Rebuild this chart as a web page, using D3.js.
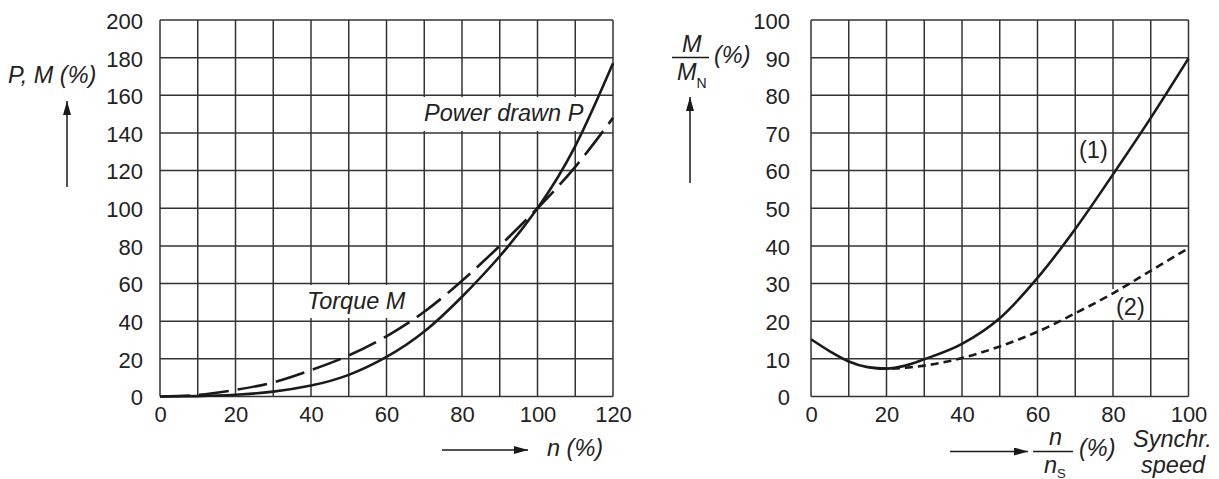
<!DOCTYPE html>
<html><head><meta charset="utf-8">
<script src="https://cdn.jsdelivr.net/npm/d3@7/dist/d3.min.js"></script>
<style>
html,body{margin:0;padding:0;background:#fff;}
svg{display:block;font-family:"Liberation Sans",Arial,sans-serif;}
</style></head>
<body><svg id="c" width="1219" height="479"></svg>
<script>
// ---- Left chart data ----
const leftN = [0,10,20,30,40,50,60,70,80,90,100,110,120];
const powerP = [0,0.2,0.9,2.6,5.8,11.5,21,34.5,53,74.5,100,133,177];
const torqueM = [0,0.8,3.5,7.5,14,21.8,32,45,61.5,80,100,122,148];
const leftXTicks = [0,20,40,60,80,100,120];
const leftYTicks = [0,20,40,60,80,100,120,140,160,180,200];

// ---- Right chart data ----
const rightN1 = [0,5,10,15,20,25,30,40,50,60,70,80,90,100];
const curve1 = [15.2,12,9.3,7.8,7.4,8.2,9.9,14,20.8,31.5,44.5,59,74,89.8];
const rightN2 = [18,20,30,40,50,60,70,80,90,100];
const curve2 = [7.4,7.4,8.2,10.2,13.3,17.2,22.1,27.4,33.4,39.4];
const rightXTicks = [0,20,40,60,80,100];
const rightYTicks = [0,10,20,30,40,50,60,70,80,90,100];

const svg = d3.select("#c");
const gridCol = "#333";
const inkCol = "#1a1a1a";
const txtCol = "#222";
const LFS = 23.5;

svg.append("defs").append("marker")
  .attr("id","ah").attr("viewBox","0 0 14 8").attr("refX",14).attr("refY",4)
  .attr("markerWidth",14).attr("markerHeight",8).attr("markerUnits","userSpaceOnUse")
  .attr("orient","auto")
  .append("path").attr("d","M0,0 L14,4 L0,8 Z").attr("fill",inkCol);

function drawPanel(x, y, xGrid, yGrid, xTicks, yTicks, yPad){
  const g = svg.append("g");
  const [x0,x1] = x.range(), [y0,y1] = y.range();
  g.selectAll(".vg").data(xGrid).enter().append("line")
    .attr("x1",d=>x(d)).attr("x2",d=>x(d)).attr("y1",y0).attr("y2",y1)
    .attr("stroke",gridCol).attr("stroke-width",1.5);
  g.selectAll(".hg").data(yGrid).enter().append("line")
    .attr("y1",d=>y(d)).attr("y2",d=>y(d)).attr("x1",x0).attr("x2",x1)
    .attr("stroke",gridCol).attr("stroke-width",1.5);
  const ax = g.append("g").attr("transform",`translate(0,${y0})`)
    .call(d3.axisBottom(x).tickValues(xTicks).tickSize(0).tickPadding(9.5).tickFormat(d3.format("d")));
  ax.select(".domain").remove();
  ax.selectAll("text").attr("font-size",22).attr("fill",txtCol).attr("font-family","Liberation Sans, Arial, sans-serif");
  const ay = g.append("g").attr("transform",`translate(${x0},0)`)
    .call(d3.axisLeft(y).tickValues(yTicks).tickSize(0).tickPadding(yPad).tickFormat(d3.format("d")));
  ay.select(".domain").remove();
  ay.selectAll("text").attr("font-size",22).attr("fill",txtCol).attr("dy","0.38em").attr("font-family","Liberation Sans, Arial, sans-serif");
  return g;
}

function label(txt, x, y, box, upright){
  if(box){
    svg.append("rect").attr("x",box[0]).attr("y",box[1]).attr("width",box[2]).attr("height",box[3]).attr("fill","#fff");
  }
  return svg.append("text").attr("x",x).attr("y",y).text(txt)
    .attr("font-size",LFS).attr("font-style",upright?"normal":"italic").attr("fill",txtCol);
}

// ---------- LEFT ----------
const xL = d3.scaleLinear().domain([0,120]).range([160,613]);
const yL = d3.scaleLinear().domain([0,200]).range([396.5,20]);
drawPanel(xL, yL, d3.range(0,121,10), d3.range(0,201,20), leftXTicks, leftYTicks, 17);

const smooth = d3.line().curve(d3.curveNatural);
const smoothM = d3.line().curve(d3.curveMonotoneX);
const ptsP = leftN.map((n,i)=>[xL(n), yL(powerP[i])]);
const ptsM = leftN.map((n,i)=>[xL(n), yL(torqueM[i])]);

label("Torque M", 307, 308.5, [304,285,106,33]);
label("Power drawn P", 424, 120.5, [420,97,170,34]);

svg.append("path").attr("d",smooth(ptsM)).attr("fill","none").attr("stroke",inkCol)
  .attr("stroke-width",2.6).attr("stroke-dasharray","30,9");
svg.append("path").attr("d",smooth(ptsP)).attr("fill","none").attr("stroke",inkCol)
  .attr("stroke-width",2.6);

label("P, M (%)", 8, 83);
svg.append("line").attr("x1",67).attr("y1",187).attr("x2",67).attr("y2",101)
  .attr("stroke",inkCol).attr("stroke-width",1.5).attr("marker-end","url(#ah)");
svg.append("line").attr("x1",442).attr("y1",450).attr("x2",528).attr("y2",450)
  .attr("stroke",inkCol).attr("stroke-width",1.5).attr("marker-end","url(#ah)");
label("n (%)", 547, 456);

// ---------- RIGHT ----------
const xR = d3.scaleLinear().domain([0,100]).range([811,1188.5]);
const yR = d3.scaleLinear().domain([0,100]).range([396.5,20]);
drawPanel(xR, yR, d3.range(0,101,10), d3.range(0,101,10), rightXTicks, rightYTicks, 21);

const p1 = rightN1.map((n,i)=>[xR(n), yR(curve1[i])]);
const p2 = rightN2.map((n,i)=>[xR(n), yR(curve2[i])]);
label("(2)", 1116, 315, [1110,289,39,31], true);
label("(1)", 1079, 158, [1077,138,33,26], true);
svg.append("path").attr("d",smoothM(p2)).attr("fill","none").attr("stroke",inkCol)
  .attr("stroke-width",2.6).attr("stroke-dasharray","8,5");
svg.append("path").attr("d",smoothM(p1)).attr("fill","none").attr("stroke",inkCol)
  .attr("stroke-width",2.6);

// right axis title
label("M", 682, 52);
svg.append("line").attr("x1",672).attr("x2",709).attr("y1",57.5).attr("y2",57.5).attr("stroke",inkCol).attr("stroke-width",1.5);
const mn = label("M", 677, 80);
mn.append("tspan").attr("font-size",14).attr("font-style","normal").attr("dy",8).text("N");
label("(%)", 714, 63);
svg.append("line").attr("x1",690).attr("y1",183).attr("x2",690).attr("y2",97)
  .attr("stroke",inkCol).attr("stroke-width",1.5).attr("marker-end","url(#ah)");

// bottom right
svg.append("line").attr("x1",950).attr("y1",451.5).attr("x2",1028).attr("y2",451.5)
  .attr("stroke",inkCol).attr("stroke-width",1.5).attr("marker-end","url(#ah)");
label("n", 1049, 444.5);
svg.append("line").attr("x1",1033).attr("x2",1073).attr("y1",451.5).attr("y2",451.5).attr("stroke",inkCol).attr("stroke-width",1.5);
const ns = label("n", 1044, 473);
ns.append("tspan").attr("font-size",13).attr("font-style","normal").attr("dy",4.5).text("S");
label("(%)", 1079, 456);
label("Synchr.", 1133, 446.5);
label("speed", 1141, 473);
</script>
</body></html>
